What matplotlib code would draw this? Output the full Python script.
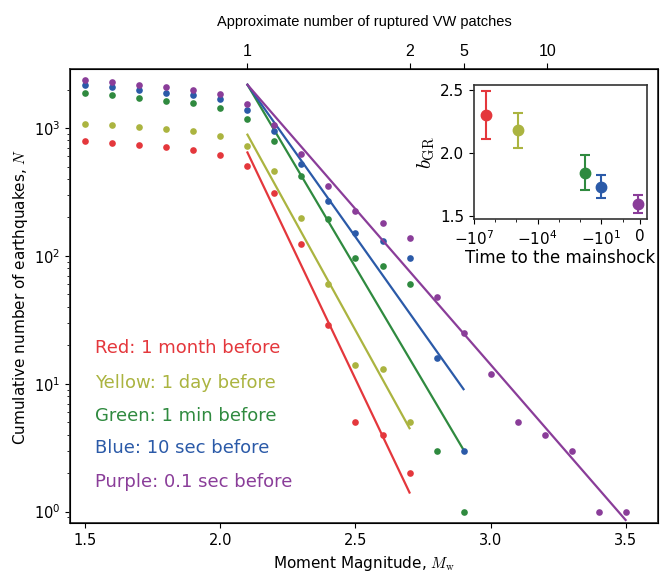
import numpy as np
import matplotlib
matplotlib.use("Agg")
import matplotlib.pyplot as plt

# magnitude bins (main panel x)
mw = [1.5, 1.6, 1.7, 1.8, 1.9, 2.0, 2.1, 2.2, 2.3, 2.4, 2.5,
      2.6, 2.7, 2.8, 2.9, 3.0, 3.1, 3.2, 3.3, 3.4, 3.5]

# cumulative counts
red_n = [785, 763, 731, 710, 676, 618, 507, 313, 124, 29, 5, 4, 2]
yellow_n = [1081, 1048, 1011, 975, 940, 865, 727, 460, 199, 60, 14, 13, 5]
green_n = [1880, 1800, 1718, 1636, 1570, 1442, 1176, 790, 418, 196, 97, 83,
           60, 3, 1]
blue_n = [2183, 2093, 1995, 1889, 1811, 1687, 1374, 940, 523, 268, 152, 130,
          96, 16, 3]
purple_n = [2388, 2290, 2183, 2093, 1995, 1845, 1541, 1062, 630, 354, 223,
            181, 138, 48, 25, 12, 5, 4, 3, 1, 1]

# fitted GR lines: start / end points
red_fit_x, red_fit_n = [2.1, 2.7], [644, 1.41]
yellow_fit_x, yellow_fit_n = [2.1, 2.7], [887, 4.49]
green_fit_x, green_fit_n = [2.1, 2.9], [2180, 3.04]
blue_fit_x, blue_fit_n = [2.1, 2.9], [2180, 9.07]
purple_fit_x, purple_fit_n = [2.1, 3.5], [2180, 0.86]

labels = ["Red: 1 month before", "Yellow: 1 day before",
          "Green: 1 min before", "Blue: 10 sec before",
          "Purple: 0.1 sec before"]
colors = ["#e4373c", "#abb440", "#2f8a3f", "#2b5aa8", "#8a3d99"]

# top axis: approximate number of ruptured VW patches
patch_pos = [2.1, 2.7, 2.9, 3.21]
patch_labels = ["1", "2", "5", "10"]

# inset: b value vs time to mainshock (s)
inset_time = [-2.6e6, -8.64e4, -60, -10, -0.1]
inset_b = [2.30, 2.18, 1.84, 1.73, 1.59]
inset_err = [0.19, 0.14, 0.14, 0.09, 0.07]


def main():
    fig = plt.figure(figsize=(6.62, 5.72), dpi=100)
    ax = fig.add_axes([0.1057, 0.0851, 0.8883, 0.7938])

    series = [red_n, yellow_n, green_n, blue_n, purple_n]
    fits = [(red_fit_x, red_fit_n), (yellow_fit_x, yellow_fit_n),
            (green_fit_x, green_fit_n), (blue_fit_x, blue_fit_n),
            (purple_fit_x, purple_fit_n)]

    for n, (fx, fn), c in zip(series, fits, colors):
        ax.plot(mw[:len(n)], n, "o", color=c, ms=4.8, mew=0)
        ax.plot(fx, fn, "-", color=c, lw=1.6)

    ax.set_yscale("log")
    ax.set_xlim(1.443, 3.62)
    ax.set_ylim(0.81, 2880)
    ax.set_xticks([1.5, 2.0, 2.5, 3.0, 3.5])
    ax.tick_params(labelsize=10.5)
    ax.set_xlabel(r"Moment Magnitude, $M_{\mathrm{w}}$", fontsize=11,
                  math_fontfamily="cm", labelpad=4)
    ax.set_ylabel(r"Cumulative number of earthquakes, $N$", fontsize=11,
                  math_fontfamily="cm", labelpad=3)
    for s in ax.spines.values():
        s.set_linewidth(1.3)
        s.set_color("#333333")

    # coloured legend text
    ys = [0.386, 0.310, 0.237, 0.165, 0.091]
    for lab, c, y in zip(labels, colors, ys):
        ax.text(0.0425, y, lab, color=c, fontsize=13,
                transform=ax.transAxes, va="center", ha="left")

    # top axis
    ax2 = ax.twiny()
    ax2.set_xlim(ax.get_xlim())
    ax2.set_xticks(patch_pos)
    ax2.set_xticklabels(patch_labels, family="Liberation Sans",
                        fontsize=11.5)
    ax2.set_xlabel("Approximate number of ruptured VW patches",
                   family="Liberation Sans", fontsize=10.5, labelpad=13)
    ax2.tick_params(axis="x", length=4)

    # inset
    ins = fig.add_axes([0.716, 0.6166, 0.261, 0.235])
    for t, b, e, c in zip(inset_time, inset_b, inset_err, colors):
        ins.errorbar([t], [b], yerr=[e], fmt="o", color=c, ms=7.5,
                     capsize=3.5, elinewidth=1.5, capthick=1.5)
    ins.set_xscale("symlog", linthresh=1, linscale=0.75)
    ins.set_xlim(-1e7, 0.37)
    ins.set_ylim(1.47, 2.54)
    ins.set_xticks([-1e7, -1e4, -1e1, 0])
    ins.set_xticklabels([r"$-10^7$", r"$-10^4$", r"$-10^1$", "0"])
    ins.set_xticks([-1e6, -1e5, -1e3, -1e2, -1], minor=True)
    ins.set_yticks([1.5, 2.0, 2.5])
    ins.tick_params(labelsize=11)
    ins.tick_params(axis="x", which="minor", length=2)
    ins.set_xlabel("Time to the mainshock", fontsize=12, labelpad=1)
    ins.set_ylabel(r"$b_{\mathrm{GR}}$", fontsize=15, math_fontfamily="cm",
                   labelpad=2)
    for s in ins.spines.values():
        s.set_linewidth(1.2)
        s.set_color("#333333")

    fig.savefig("out.png", dpi=100)


if __name__ == '__main__':
    main()
